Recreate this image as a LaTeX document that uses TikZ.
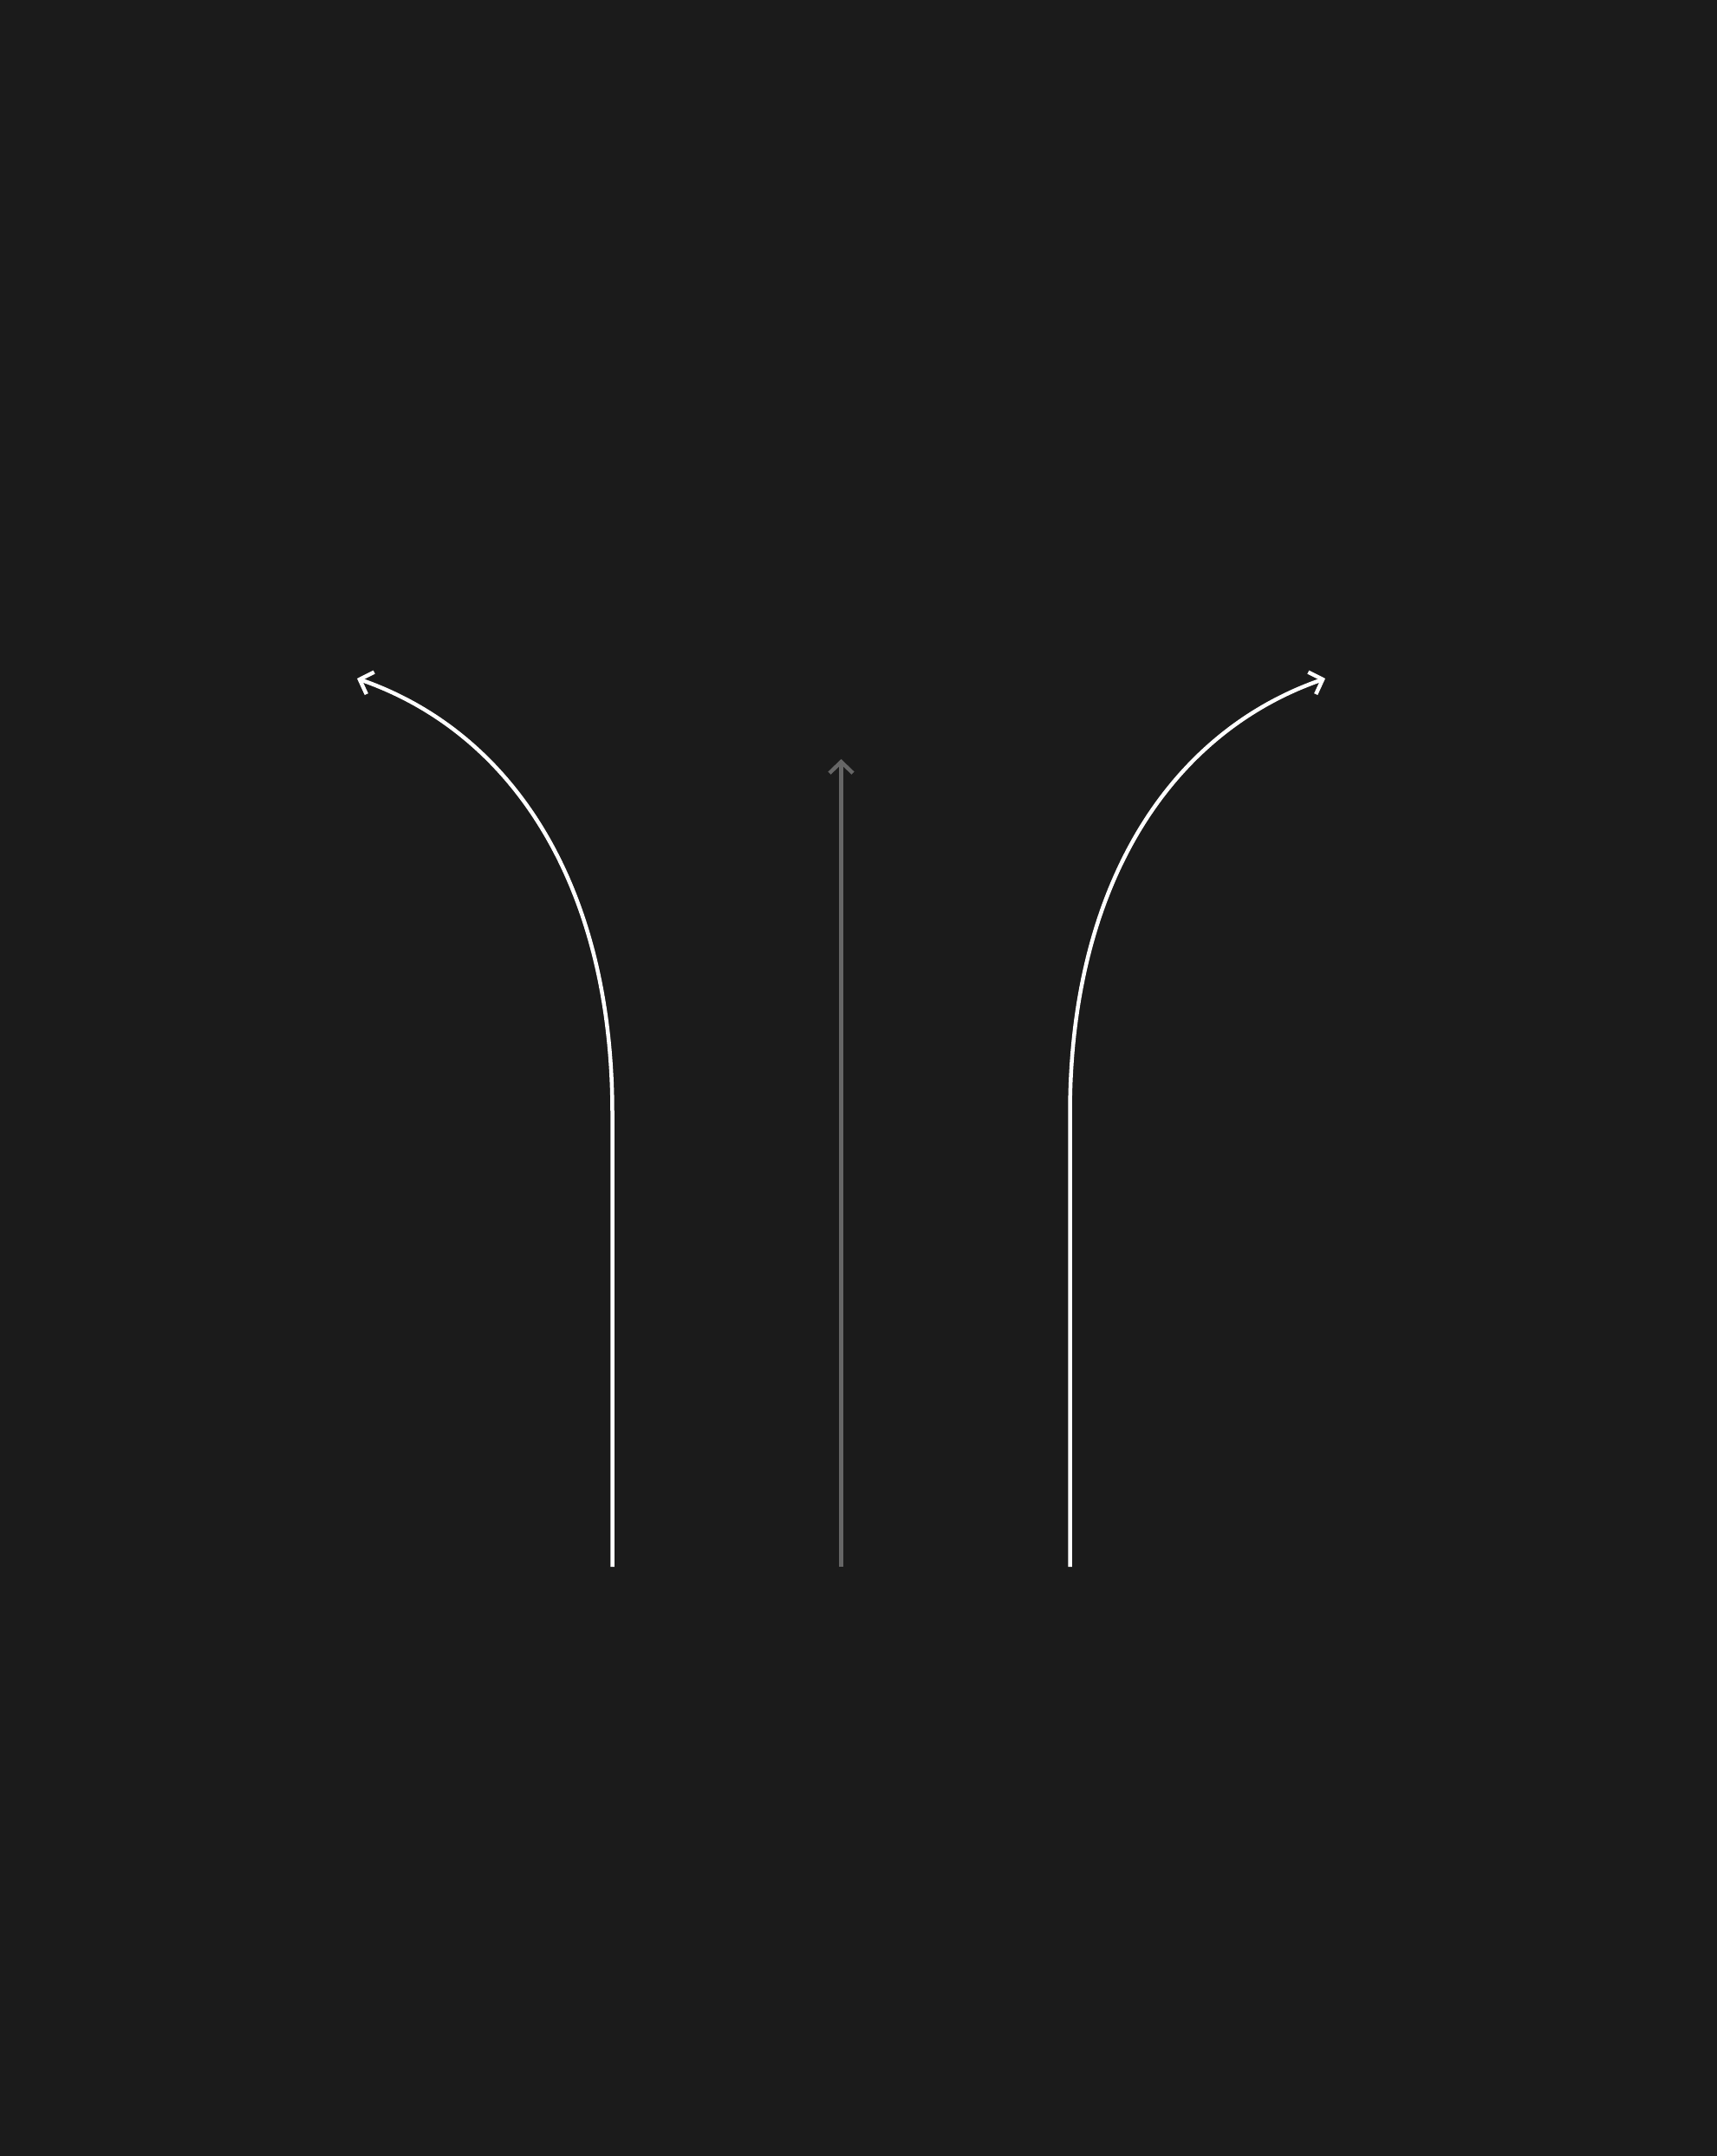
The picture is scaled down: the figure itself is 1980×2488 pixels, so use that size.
\documentclass[tikz,border=0pt]{standalone}
\usetikzlibrary{arrows.meta}
\definecolor{bgdark}{HTML}{1B1B1B}
\definecolor{midgray}{HTML}{666666}

\begin{document}
\begin{tikzpicture}[x=0.1mm, y=-0.1mm,
        lane/.style={line width=0.45mm, -{Straight Barb[length=1.3mm, width=2.7mm]}}]
        \useasboundingbox (0,0) rectangle (1980,2488);
        \fill[bgdark] (-20,-20) rectangle (2000,2508);
        \coordinate (leftfoot) at (706.5,1808);
        \coordinate (leftbend) at (706.5,1285);
        \coordinate (lefttip) at (412,783);
        \coordinate (midfoot) at (970.5,1808);
        \coordinate (midtip) at (970.5,876);
        \coordinate (rightfoot) at (1234.5,1808);
        \coordinate (rightbend) at (1234.5,1285);
        \coordinate (righttip) at (1529,783);
        \draw[lane, white] (leftfoot) -- (leftbend) .. controls (706.5,1020) and (590,845) .. (lefttip);
        \draw[lane, midgray] (midfoot) -- (midtip);
        \draw[lane, white] (rightfoot) -- (rightbend) .. controls (1234.5,1020) and (1351,845) .. (righttip);
    \end{tikzpicture}
\end{document}
